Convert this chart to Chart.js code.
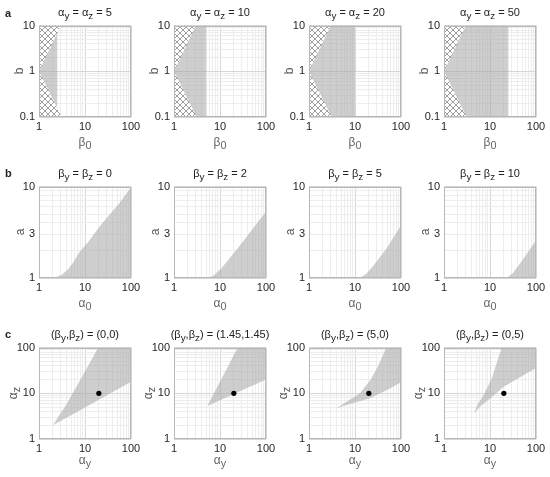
<!DOCTYPE html>
<html>
<head>
<meta charset="utf-8">
<script src="https://cdn.jsdelivr.net/npm/chart.js@4/dist/chart.umd.min.js"></script>
<style>
  body { margin: 0; background: #fff; }
  #wrap { position: relative; width: 550px; height: 477px; font-family: 'Liberation Sans', Arial, sans-serif; }
  #wrap canvas { position: absolute; }
  .txt { position: absolute; font-size: 11px; color: #222; white-space: nowrap; line-height: 12px; }
  .ttl { transform: translateX(-50%); }
  .xl { transform: translateX(-50%); color: #666; font-size: 12px; }
  .yl { transform: translate(-50%, -50%) rotate(-90deg); color: #555; font-size: 12px; }
  .let { font-weight: bold; font-size: 11px; }
  sub { font-size: 0.9em; vertical-align: -3px; line-height: 0; }
</style>
</head>
<body>
<div id="wrap"></div>
<script>
// ---- data ----
// row a: alpha_y = alpha_z, shaded up to beta0 max, hatched V region
var alphaA = [5, 10, 20, 50];
var beta0MaxA = [2.5, 5, 10, 25];
var hatchB = [0.1, 1, 10];
var hatchBeta0 = [3.1, 1, 3.0];

// row b: beta_y = beta_z, lower boundary curve of shaded region
var betaB = [0, 2, 5, 10];
var curveAlpha0 = [
  [2.05, 3.1, 4.3, 5.6, 7.2, 11.8, 23, 53, 100],
  [5.45, 7.6, 10.6, 14.8, 24.3, 47.3, 100],
  [12.8, 17.9, 25, 48.8, 100],
  [23.3, 31.3, 51.5, 100]
];
var curveA = [
  [1, 1.08, 1.25, 1.49, 1.85, 2.49, 3.91, 6.38, 9.75],
  [1, 1.08, 1.27, 1.55, 2.12, 3.27, 5.33],
  [1, 1.12, 1.36, 2.12, 3.75],
  [1, 1.13, 1.58, 2.58]
];

// row c: (beta_y, beta_z), upper and lower edges of shaded wedge
var betaC = ['(0,0)', '(1.45,1.45)', '(5,0)', '(0,5)'];
var upperAy = [
  [2, 4, 10, 19.5],
  [5.3, 10, 24.3],
  [3.9, 7, 12.8, 22, 32, 48],
  [4.5, 5.5, 7, 10.9, 17.9]
];
var upperAz = [
  [2, 5.8, 30, 100],
  [5.3, 18, 100],
  [4.7, 6.8, 10, 20, 40, 100],
  [3.6, 6, 8.5, 21, 100]
];
var lowerAy = [
  [2, 10, 100],
  [5.3, 20, 100],
  [3.9, 6, 10, 20, 50, 100],
  [4.5, 6, 9.2, 20, 50, 100]
];
var lowerAz = [
  [2, 4.9, 17.9],
  [5.3, 9.6, 20],
  [4.7, 5.4, 6.3, 7.6, 11.8, 17.5],
  [3.6, 5.1, 7.1, 13.9, 24, 36]
];
var dotAy = [20];
var dotAz = [10];

var tickLabels01 = [0.1, 1, 10];
var tickLabels1 = [1, 10, 100];
var tickLabelsB = [1, 3, 10];

// ---- layout ----
var plotLeft = [39, 174, 309, 444];
var rowTop = [25, 186, 347];
var PW = 92, PH = 92, YW = 36, XH = 22, PT = 10, PR = 14;

var GRAY = 'rgba(165,165,165,0.55)';
var FONT = "'Liberation Sans', Arial, sans-serif";
var wrap = document.getElementById('wrap');

function hatch() {
  var c = document.createElement('canvas');
  c.width = 6; c.height = 6;
  var g = c.getContext('2d');
  g.fillStyle = '#fff'; g.fillRect(0, 0, 6, 6);
  g.strokeStyle = '#858585'; g.lineWidth = 0.8;
  g.beginPath();
  g.moveTo(0, 0); g.lineTo(6, 6);
  g.moveTo(6, 0); g.lineTo(0, 6);
  g.stroke();
  return g.createPattern(c, 'repeat');
}

function logTicks(min, max) {
  var t = [];
  for (var d = min; d < max * 0.99; d *= 10)
    for (var k = 1; k < 10; k++) t.push(+(d * k).toPrecision(3));
  t.push(max);
  return t;
}

function pts(xs, ys) {
  return xs.map(function (x, i) { return {x: x, y: ys[i]}; });
}

function axis(min, max, labels, isX) {
  return {
    type: 'logarithmic', min: min, max: max,
    afterBuildTicks: function (s) {
      s.ticks = logTicks(min, max).map(function (v) { return {value: v}; });
    },
    afterFit: function (s) { if (isX) s.height = XH; else s.width = YW; },
    ticks: {
      autoSkip: false, maxRotation: 0, padding: isX ? 3 : 4,
      color: '#262626', font: {family: FONT, size: 11},
      callback: function (v) {
        for (var i = 0; i < labels.length; i++) if (Math.abs(labels[i] - v) < 1e-9) return String(labels[i]);
        return '';
      }
    },
    grid: {
      drawTicks: false, lineWidth: 1,
      color: function (c) {
        if (!c.tick) return '#ececec';
        var l = Math.log10(c.tick.value);
        return Math.abs(l - Math.round(l)) < 1e-6 ? '#d6d6d6' : '#ededed';
      }
    },
    border: {display: false}
  };
}

var boxPlugin = {
  id: 'box',
  afterDatasetsDraw: function (chart) {
    var a = chart.chartArea, g = chart.ctx;
    g.save();
    g.strokeStyle = '#b8b8b8'; g.lineWidth = 1;
    g.strokeRect(Math.round(a.left) + 0.5, Math.round(a.top) + 0.5, Math.round(a.right - a.left) - 1, Math.round(a.bottom - a.top) - 1);
    g.restore();
  }
};

function shape(data, bg) {
  return {data: data, showLine: true, fill: 'shape', backgroundColor: bg,
    borderColor: 'rgba(0,0,0,0)', borderWidth: 0, pointRadius: 0, tension: 0};
}

function panel(row, col, datasets, xr, yr) {
  var cv = document.createElement('canvas');
  var L = plotLeft[col], T = rowTop[row];
  cv.width = YW + PW + PR; cv.height = PT + PH + XH;
  cv.style.left = (L - YW) + 'px'; cv.style.top = (T - PT) + 'px';
  wrap.appendChild(cv);
  new Chart(cv.getContext('2d'), {
    type: 'scatter',
    data: {datasets: datasets},
    options: {
      responsive: false, animation: false, events: [],
      layout: {padding: {left: 0, right: PR, top: PT, bottom: 0}},
      plugins: {legend: {display: false}, tooltip: {enabled: false}},
      scales: {x: axis(xr[0], xr[1], tickLabels1, true), y: axis(yr[0], yr[1], yr[2], false)}
    },
    plugins: [boxPlugin]
  });
}

function text(html, cls, x, y) {
  var d = document.createElement('div');
  d.className = 'txt ' + cls;
  d.innerHTML = html;
  d.style.left = x + 'px'; d.style.top = y + 'px';
  wrap.appendChild(d);
}

var pat = hatch();
for (var i = 0; i < 4; i++) {
  // row a
  var hatchPts = [{x: 1, y: 0.1}].concat(pts(hatchBeta0, hatchB)).concat([{x: 1, y: 10}]);
  var rect = [{x: 1, y: 0.1}, {x: beta0MaxA[i], y: 0.1}, {x: beta0MaxA[i], y: 10}, {x: 1, y: 10}];
  panel(0, i, [shape(hatchPts, pat), shape(rect, GRAY)], [1, 100], [0.1, 10, tickLabels01]);

  // row b
  var curve = pts(curveAlpha0[i], curveA[i]).concat([{x: 100, y: 1}]);
  panel(1, i, [shape(curve, GRAY)], [1, 100], [1, 10, tickLabelsB]);

  // row c
  var wedge = pts(upperAy[i], upperAz[i]).concat([{x: 100, y: 100}]).concat(pts(lowerAy[i], lowerAz[i]).reverse());
  var dot = {data: pts(dotAy, dotAz), pointRadius: 2.6, backgroundColor: '#000', borderWidth: 0};
  panel(2, i, [dot, shape(wedge, GRAY)], [1, 100], [1, 100, tickLabels1]);

  var cx = plotLeft[i] + PW / 2;
  text('α<sub>y</sub> = α<sub>z</sub> = ' + alphaA[i], 'ttl', cx, 6);
  text('β<sub>y</sub> = β<sub>z</sub> = ' + betaB[i], 'ttl', cx, 167);
  text('(β<sub>y</sub>,β<sub>z</sub>) = ' + betaC[i], 'ttl', cx, 328);
  text('β<sub>0</sub>', 'xl', cx, 136);
  text('α<sub>0</sub>', 'xl', cx, 297);
  text('α<sub>y</sub>', 'xl', cx, 454);
  text('b', 'yl', plotLeft[i] - 20, rowTop[0] + PH / 2);
  text('a', 'yl', plotLeft[i] - 19, rowTop[1] + PH / 2);
  text('α<sub>z</sub>', 'yl', plotLeft[i] - 26, rowTop[2] + PH / 2);
}
text('a', 'let', 5, 7);
text('b', 'let', 5, 167);
text('c', 'let', 5, 328);
</script>
</body>
</html>
